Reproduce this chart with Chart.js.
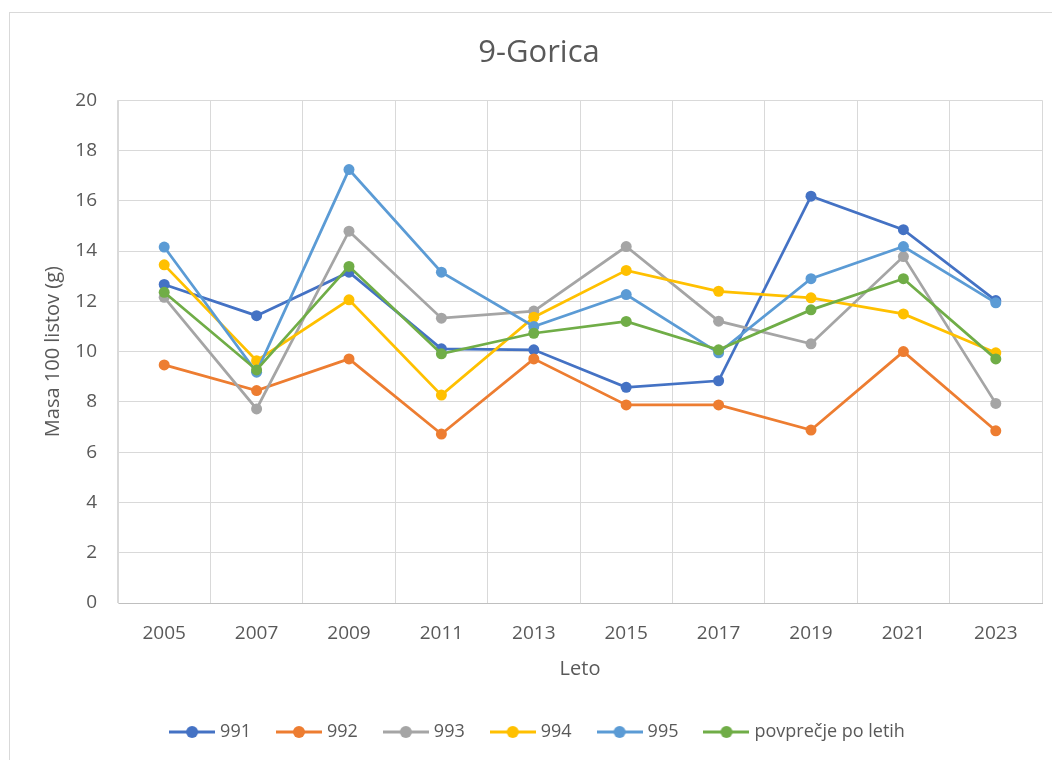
<!DOCTYPE html>
<html>
<head>
<meta charset="utf-8">
<script src="https://cdn.jsdelivr.net/npm/chart.js@4.4.1/dist/chart.umd.min.js"></script>
<style>
    html, body { margin: 0; padding: 0; background: #ffffff; }
    .wrap { position: relative; width: 1052px; height: 760px; overflow: hidden; }
    .frame { position: absolute; left: 9px; top: 12px; width: 1100px; height: 800px; border: 1.5px solid #d9d9d9; }
    canvas { position: absolute; left: 0; top: 0; }
</style>
</head>
<body>
<div class="wrap">
    <div class="frame"></div>
    <canvas id="chart" width="1052" height="760"></canvas>
</div>
<script>
const years = ['2005', '2007', '2009', '2011', '2013', '2015', '2017', '2019', '2021', '2023']

const s991 = [12.67, 11.43, 13.16, 10.11, 10.07, 8.58, 8.84, 16.18, 14.85, 12.03]
const s992 = [9.47, 8.45, 9.71, 6.72, 9.71, 7.88, 7.88, 6.88, 10.0, 6.85]
const s993 = [12.16, 7.72, 14.79, 11.33, 11.61, 14.18, 11.21, 10.31, 13.78, 7.94]
const s994 = [13.45, 9.64, 12.06, 8.27, 11.37, 13.23, 12.40, 12.14, 11.50, 9.95]
const s995 = [14.16, 9.18, 17.24, 13.16, 11.0, 12.27, 9.95, 12.9, 14.18, 11.94]
const sAvg = [12.36, 9.27, 13.39, 9.91, 10.73, 11.2, 10.07, 11.66, 12.9, 9.71]

const seriesNames = ['991', '992', '993', '994', '995', 'povprečje po letih']
const seriesColors = ['#4472c4', '#ed7d31', '#a5a5a5', '#ffc000', '#5b9bd5', '#70ad47']
const seriesValues = [s991, s992, s993, s994, s995, sAvg]

const textColor = '#595959'
const gridColor = '#d9d9d9'
const fontFamily = '"Open Sans", "Noto Sans", sans-serif'

// small line-with-dot marker for the legend
const legendMarker = color => {
    const c = document.createElement('canvas')
    c.width = 46
    c.height = 14
    const g = c.getContext('2d')
    g.strokeStyle = color
    g.lineWidth = 3
    g.beginPath()
    g.moveTo(0, 7)
    g.lineTo(46, 7)
    g.stroke()
    g.fillStyle = color
    g.beginPath()
    g.arc(23, 7, 6, 0, Math.PI * 2)
    g.fill()
    return c
}

const datasets = seriesNames.map((name, i) => ({
    label: name,
    data: seriesValues[i],
    borderColor: seriesColors[i],
    backgroundColor: seriesColors[i],
    pointBackgroundColor: seriesColors[i],
    pointBorderColor: seriesColors[i],
    borderWidth: 2.75,
    pointRadius: 5.5,
    pointBorderWidth: 0,
    tension: 0,
    // later series sit on top
    order: seriesNames.length - i
}))

new Chart(document.getElementById('chart').getContext('2d'), {
    type: 'line',
    data: { labels: years, datasets: datasets },
    options: {
        responsive: false,
        animation: false,
        devicePixelRatio: 1,
        layout: { padding: { left: 36, right: 10, top: 0, bottom: 9 } },
        plugins: {
            title: {
                display: true,
                text: '9-Gorica',
                color: textColor,
                font: { family: fontFamily, size: 31, weight: 'normal' },
                padding: { top: 35, bottom: 28 }
            },
            legend: {
                position: 'bottom',
                labels: {
                    color: textColor,
                    font: { family: fontFamily, size: 18 },
                    usePointStyle: true,
                    boxWidth: 38,
                    pointStyleWidth: 38,
                    padding: 29,
                    generateLabels: chart => chart.data.datasets.map((ds, i) => ({
                        text: ds.label,
                        fillStyle: ds.borderColor,
                        strokeStyle: ds.borderColor,
                        fontColor: textColor,
                        lineWidth: 0,
                        pointStyle: legendMarker(ds.borderColor),
                        hidden: false,
                        datasetIndex: i
                    }))
                }
            },
            tooltip: { enabled: false }
        },
        scales: {
            x: {
                offset: true,
                grid: { color: gridColor, offset: true, drawTicks: false },
                border: { color: '#bfbfbf', width: 1 },
                ticks: {
                    color: textColor,
                    padding: 19,
                    maxRotation: 0,
                    font: { family: fontFamily, size: 19 }
                },
                title: {
                    display: true,
                    text: 'Leto',
                    color: textColor,
                    font: { family: fontFamily, size: 20 },
                    padding: { top: 0, bottom: 13 }
                },
                afterFit: scale => { scale.height = 91 }
            },
            y: {
                min: 0,
                max: 20,
                grid: { color: gridColor, drawTicks: false },
                border: { color: gridColor, width: 1 },
                ticks: {
                    stepSize: 2,
                    color: textColor,
                    padding: 21,
                    font: { family: fontFamily, size: 19 }
                },
                title: {
                    display: true,
                    text: 'Masa 100 listov (g)',
                    color: textColor,
                    font: { family: fontFamily, size: 20 },
                    padding: { top: 5, bottom: 0 }
                },
                afterFit: scale => { scale.width = 82 }
            }
        }
    }
})
</script>
</body>
</html>
